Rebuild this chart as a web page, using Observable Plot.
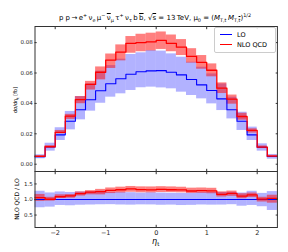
<!DOCTYPE html>
<html><head><meta charset="utf-8">
<script src="https://cdn.jsdelivr.net/npm/d3@7"></script>
<script src="https://cdn.jsdelivr.net/npm/@observablehq/plot@0.6"></script>
<style>
body{margin:0;background:#fff;font-family:"DejaVu Sans",sans-serif;}
#wrap{position:relative;width:288px;height:252px;overflow:hidden;}
.abs{position:absolute;white-space:nowrap;color:#000;}
sub,sup{font-size:70%;line-height:0;}
.ob{text-decoration:overline;}
</style></head><body>
<div id="wrap"></div>
<script>
// bin edges in eta_t
const etaEdges = [-2.4,-2.2,-2.0,-1.8,-1.6,-1.4,-1.2,-1.0,-0.8,-0.6,-0.4,-0.2,0.0,0.2,0.4,0.6,0.8,1.0,1.2,1.4,1.6,1.8,2.0,2.2,2.4];
// LO central and scale band
const loCentral = [0.0049,0.0114,0.0193,0.0283,0.0358,0.0424,0.0483,0.0529,0.0562,0.0592,0.0608,0.0614,0.0616,0.0605,0.0588,0.0557,0.0522,0.0485,0.0430,0.0358,0.0283,0.0193,0.0112,0.0051];
const loLow     = [0.0036,0.0086,0.0156,0.0226,0.0292,0.0349,0.0401,0.0441,0.0463,0.0485,0.0503,0.0507,0.0502,0.0496,0.0474,0.0452,0.0430,0.0397,0.0353,0.0298,0.0222,0.0156,0.0086,0.0033];
const loHigh    = [0.0062,0.0138,0.0240,0.0347,0.0445,0.0529,0.0612,0.0649,0.0691,0.0722,0.0733,0.0748,0.0744,0.0726,0.0704,0.0671,0.0638,0.0594,0.0528,0.0441,0.0342,0.0244,0.0134,0.0064];
// NLO QCD central and scale band
const nloCentral = [0.0052,0.0115,0.0210,0.0316,0.0425,0.0525,0.0605,0.0685,0.0738,0.0795,0.0800,0.0805,0.0815,0.0795,0.0770,0.0709,0.0670,0.0618,0.0500,0.0428,0.0314,0.0222,0.0113,0.0053];
const nloLow     = [0.0046,0.0108,0.0200,0.0295,0.0398,0.0488,0.0555,0.0630,0.0680,0.0730,0.0740,0.0745,0.0755,0.0740,0.0715,0.0665,0.0625,0.0575,0.0465,0.0395,0.0290,0.0205,0.0103,0.0045];
const nloHigh    = [0.0057,0.0122,0.0222,0.0328,0.0445,0.0545,0.0640,0.0725,0.0785,0.0840,0.0855,0.0862,0.0870,0.0850,0.0820,0.0760,0.0715,0.0660,0.0535,0.0455,0.0335,0.0233,0.0120,0.0058];
const xTicks = [-2,-1,0,1,2];
const yTicksMain = [0.00,0.02,0.04,0.06,0.08];
const yTicksRatio = [0.5,1.0,1.5];

const BLUE="#0000ff", RED="#ff0000", FR="#333";
const bins = loCentral.map((v,i)=>({
  x1: etaEdges[i], x2: etaEdges[i+1],
  lo: v, loL: loLow[i], loH: loHigh[i],
  nlo: nloCentral[i], nloL: nloLow[i], nloH: nloHigh[i]
}));
const stepPts = (arr) => etaEdges.map((x,i)=>({x, y: arr[Math.min(i, arr.length-1)]}));
const minus = d => (d<0 ? "\u2212"+Math.abs(d) : String(d));

const common = {width:288, marginLeft:34.5, marginRight:11.1, style:{fontFamily:"DejaVu Sans", fontSize:"5.5px", color:"#222", background:"transparent"}};

function axes(yt, yfmt, showX){
  return [
    Plot.axisX(xTicks, {anchor:"top", label:null, tickSize:-2.2, tickFormat:()=>"", stroke:FR}),
    Plot.axisX(xTicks, {anchor:"bottom", label:null, tickSize:-2.2, tickFormat: showX?minus:()=>"", tickPadding: showX?5:0, stroke:FR, fontSize: showX?"6.5px":undefined}),
    Plot.axisY(yt, {anchor:"left", label:null, tickSize:-2.2, tickPadding:4.5, tickFormat:yfmt, stroke:FR}),
    Plot.axisY(yt, {anchor:"right", label:null, tickSize:-2.2, tickFormat:()=>"", stroke:FR}),
    Plot.frame({stroke:FR, strokeWidth:1})
  ];
}

const main = Plot.plot({
  ...common, height:172, marginTop:26, marginBottom:1,
  x:{domain:[-2.4,2.4], axis:null},
  y:{domain:[-0.0048,0.0906], axis:null},
  marks:[
    Plot.rectY(bins,{x1:"x1",x2:"x2",y1:"loL",y2:"loH",fill:BLUE,fillOpacity:0.3,inset:0}),
    Plot.rectY(bins,{x1:"x1",x2:"x2",y1:"nloL",y2:"nloH",fill:RED,fillOpacity:0.5,inset:0}),
    Plot.line(stepPts(loCentral),{x:"x",y:"y",curve:"step-after",stroke:BLUE,strokeWidth:1.1}),
    Plot.line(stepPts(nloCentral),{x:"x",y:"y",curve:"step-after",stroke:RED,strokeWidth:1.3}),
    ...axes(yTicksMain, d3.format(".2f"), false)
  ]
});

const ratio = Plot.plot({
  ...common, height:82, marginTop:1, marginBottom:25,
  x:{domain:[-2.4,2.4], axis:null},
  y:{domain:[0.1,1.9], axis:null},
  marks:[
    Plot.rectY(bins,{x1:"x1",x2:"x2",y1:d=>d.loL/d.lo,y2:d=>d.loH/d.lo,fill:BLUE,fillOpacity:0.3,inset:0}),
    Plot.rectY(bins,{x1:"x1",x2:"x2",y1:d=>d.nloL/d.lo,y2:d=>d.nloH/d.lo,fill:RED,fillOpacity:0.5,inset:0}),
    Plot.line(stepPts(loCentral.map((v,i)=>v/loCentral[i])),{x:"x",y:"y",curve:"step-after",stroke:BLUE,strokeWidth:1.1}),
    Plot.line(stepPts(nloCentral.map((v,i)=>v/loCentral[i])),{x:"x",y:"y",curve:"step-after",stroke:RED,strokeWidth:1.3}),
    ...axes(yTicksRatio, d3.format(".1f"), true)
  ]
});

const wrap = document.getElementById("wrap");
main.style.position="absolute"; main.style.left="0"; main.style.top="0";
ratio.style.position="absolute"; ratio.style.left="0"; ratio.style.top="170px";
wrap.appendChild(main); wrap.appendChild(ratio);

function addDiv(html, css){
  const d=document.createElement("div"); d.className="abs"; d.innerHTML=html;
  Object.assign(d.style, css); wrap.appendChild(d); return d;
}
// title
addDiv('p p\u2009\u2192\u2009e<sup>+</sup>\u2009\u03bd<sub>e</sub>\u2009\u03bc<sup>\u2212</sup>\u2009<span class="ob">\u03bd</span><sub>\u03bc</sub>\u2009\u03c4<sup>+</sup>\u2009\u03bd<sub>\u03c4</sub>\u2009b\u2009<span class="ob">b</span>, \u221a<span class="ob">s</span> = 13\u2009TeV, \u03bc<sub>0</sub> = (<i>M</i><sub>T,t</sub>\u2009<i>M</i><sub>T,<span class="ob">t</span></sub>)<sup>1/2</sup>',
  {left:"0", width:"310px", textAlign:"center", top:"14px", fontSize:"7px", lineHeight:"9px"});
// y labels
addDiv('d\u03c3/d\u03b7<sub>t</sub> [fb]', {left:"15px", top:"100px", fontSize:"5px", transform:"translate(-50%,-50%) rotate(-90deg)"});
addDiv('NLO QCD / LO', {left:"16px", top:"199px", fontSize:"6px", transform:"translate(-50%,-50%) rotate(-90deg)"});
// x label
addDiv('<i>\u03b7</i><sub>t</sub>', {left:"155.7px", top:"241px", fontSize:"8px", transform:"translate(-50%,-50%)"});
// legend
const leg = addDiv('', {left:"214px", top:"27px", width:"60px", height:"24px", border:"0.8px solid #ccc", borderRadius:"2px", background:"rgba(255,255,255,0.85)"});
const entries = [["LO",BLUE],["NLO QCD",RED]];
entries.forEach(([t,c],i)=>{
  const y = 6.5 + i*10.3;
  const ln=document.createElement("div"); Object.assign(ln.style,{position:"absolute",left:"5px",top:(y-0.6)+"px",width:"12px",height:"1.2px",background:c}); leg.appendChild(ln);
  const tx=document.createElement("div"); tx.textContent=t; Object.assign(tx.style,{position:"absolute",left:"22px",top:(y-4)+"px",fontSize:"6.5px",lineHeight:"8px"}); leg.appendChild(tx);
});
</script>
</body></html>
